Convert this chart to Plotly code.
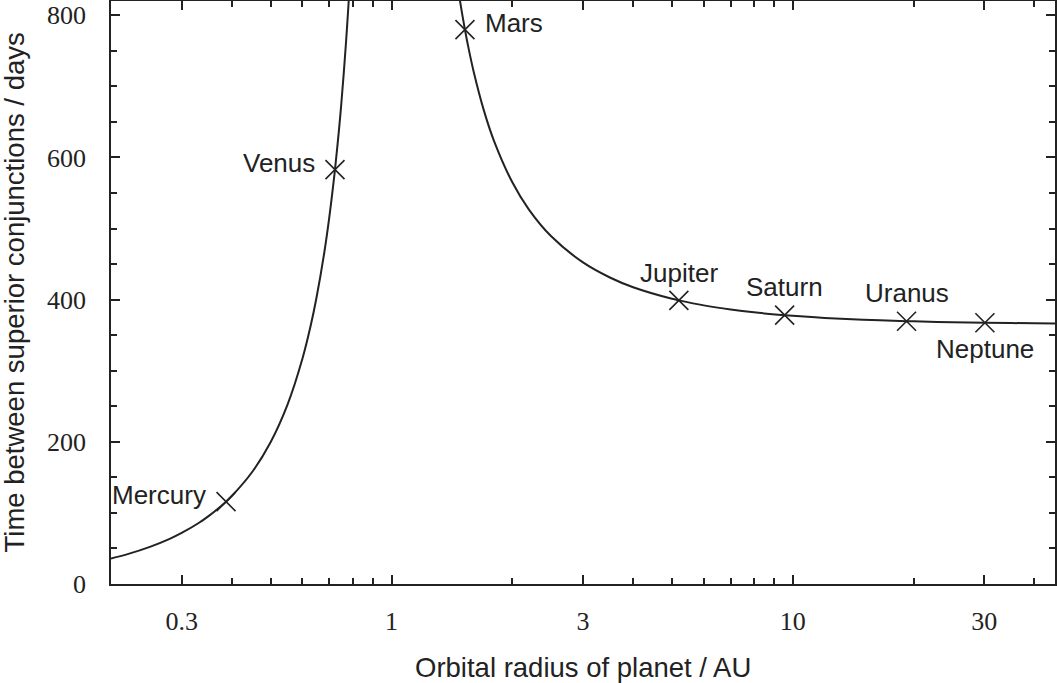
import math
import plotly.graph_objects as go

# orbital radius (AU) and synodic period (days)
inner_radius = [0.2, 0.22, 0.25, 0.28, 0.3, 0.33, 0.35, 0.387, 0.4, 0.45, 0.5, 0.55,
                0.6, 0.63, 0.65, 0.68, 0.7, 0.72, 0.723, 0.74, 0.75, 0.76, 0.77, 0.78, 0.785]
inner_days = [35.9, 42.0, 52.2, 63.5, 71.8, 85.4, 95.4, 115.8, 123.7, 157.9, 199.8, 251.6,
              317.2, 365.3, 402.2, 466.3, 516.3, 573.6, 582.9, 639.8, 676.9, 717.2, 760.9, 808.7, 834.3]

outer_radius = [1.47, 1.48, 1.5, 1.524, 1.55, 1.6, 1.7, 1.8, 2.0, 2.2, 2.5, 3.0, 3.5, 4.0,
                5.0, 5.2, 6.0, 7.0, 8.0, 9.54, 10.0, 12.0, 15.0, 19.2, 20.0, 25.0, 30.1, 35.0, 40.0, 45.0]
outer_days = [832.2, 821.5, 801.6, 779.7, 758.1, 722.0, 665.5, 623.4, 565.0, 526.6, 489.0, 452.3,
              431.1, 417.4, 401.1, 398.9, 391.9, 386.1, 382.1, 378.1, 377.2, 374.3, 371.7, 369.6,
              369.4, 368.2, 367.5, 367.0, 366.7, 366.5]

planets = ["Mercury", "Venus", "Mars", "Jupiter", "Saturn", "Uranus", "Neptune"]
planet_radius = [0.387, 0.723, 1.524, 5.2, 9.54, 19.2, 30.1]
planet_days = [115.8, 582.9, 779.7, 398.9, 378.1, 369.6, 367.5]

x_ticks = [0.3, 1, 3, 10, 30]
x_ticktext = ["0.3", "1", "3", "10", "30"]
x_minor = [0.2, 0.4, 0.5, 0.6, 0.7, 0.8, 0.9, 2, 4, 5, 6, 7, 8, 9, 20, 40]
y_ticks = [0, 200, 400, 600, 800]

INK = "#222222"
SANS = "Liberation Sans"
SERIF = "Liberation Serif"

fig = go.Figure()

for xs, ys in [(inner_radius, inner_days), (outer_radius, outer_days)]:
    fig.add_trace(go.Scatter(x=xs, y=ys, mode="lines",
                             line=dict(color=INK, width=2, shape="spline"),
                             showlegend=False, hoverinfo="skip"))

fig.add_trace(go.Scatter(x=planet_radius, y=planet_days, mode="markers",
                         marker=dict(symbol="x-thin", size=19, line=dict(color=INK, width=1.6)),
                         showlegend=False, text=planets))

# label placement: (xanchor, xshift, yshift)
label_pos = {
    "Mercury": ("right", -18, 7),
    "Venus": ("right", -18, 7),
    "Mars": ("left", 18, 7),
    "Jupiter": ("center", 0, 27),
    "Saturn": ("center", 0, 28),
    "Uranus": ("center", 0, 28),
    "Neptune": ("center", 0, -26),
}
for name, r, d in zip(planets, planet_radius, planet_days):
    xa, dx, dy = label_pos[name]
    fig.add_annotation(x=math.log10(r), y=d, text=name, showarrow=False,
                       xanchor=xa, yanchor="middle", xshift=dx, yshift=dy,
                       font=dict(family=SANS, size=26, color=INK))

# axis titles
fig.add_annotation(xref="paper", yref="paper", x=0.5, y=0, yshift=-83,
                   text="Orbital radius of planet / AU", showarrow=False,
                   xanchor="center", yanchor="middle",
                   font=dict(family=SANS, size=27.5, color=INK))
fig.add_annotation(xref="paper", yref="paper", x=0, y=0.5, xshift=-97,
                   text="Time between superior conjunctions / days", showarrow=False,
                   textangle=-90, xanchor="center", yanchor="middle",
                   font=dict(family=SANS, size=27.5, color=INK))

axis_common = dict(showline=True, linecolor=INK, linewidth=1.6, mirror="allticks",
                   ticks="inside", tickcolor=INK, tickwidth=1.6, ticklen=9,
                   showgrid=False, zeroline=False, automargin=False,
                   tickfont=dict(family=SERIF, size=26, color=INK))

fig.update_xaxes(type="log", range=[math.log10(0.2), math.log10(45)],
                 tickvals=x_ticks, ticktext=x_ticktext, ticklabelstandoff=13,
                 minor=dict(tickvals=x_minor, ticks="inside", ticklen=6,
                            tickcolor=INK, tickwidth=1.6, showgrid=False),
                 **axis_common)
fig.update_yaxes(range=[0, 820], tickvals=y_ticks, ticklabelstandoff=18,
                 minor=dict(dtick=50, ticks="inside", ticklen=6,
                            tickcolor=INK, tickwidth=1.6, showgrid=False),
                 **axis_common)

fig.update_layout(width=1057, height=683, margin=dict(l=111, r=2, t=1, b=99),
                  plot_bgcolor="white", paper_bgcolor="white")

# drop the default page margin so the figure sits at the window's corner
fig.write_html("out.html", config={"displayModeBar": False},
               post_script="document.body.style.margin='0';")
